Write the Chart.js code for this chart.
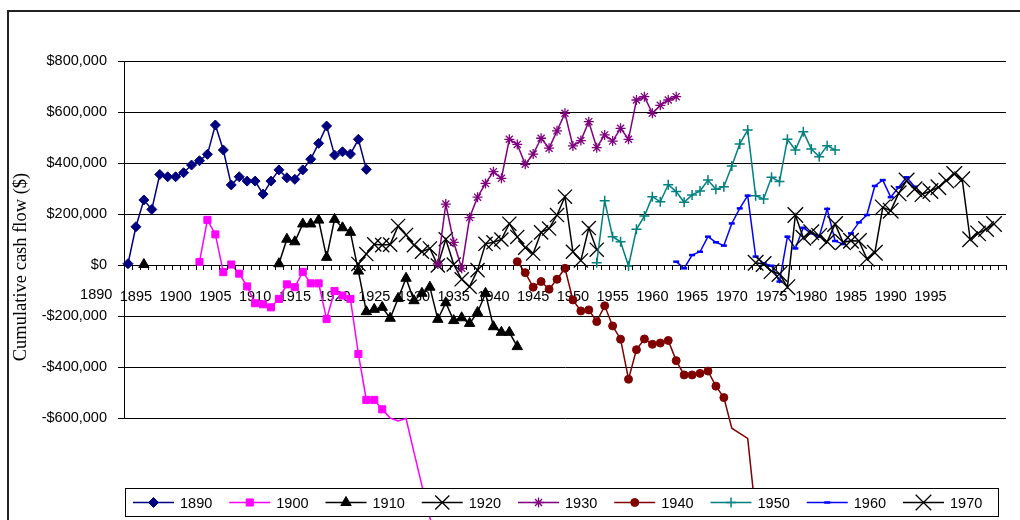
<!DOCTYPE html>
<html>
<head>
<meta charset="utf-8">
<script src="https://cdn.jsdelivr.net/npm/chart.js@4.4.0/dist/chart.umd.min.js"></script>
<style>
  html, body { margin: 0; background: #fff; }
  canvas { display: block; }
</style>
</head>
<body>
<canvas id="cashChart" width="1020" height="520"></canvas>
<script>
// ---- categories (one per year on the axis) ----
const firstYear = 1894;
const lastYear = 2004;
const years = [];
for (let y = firstYear; y <= lastYear; y++) years.push(y);

// ---- series : first plotted year + cumulative cash flow values ($) ----
const start1890 = 1894;
const s1890 = [5000, 150000, 255000, 218000, 355000, 346000, 346000, 362000, 392000, 409000,
  434000, 549000, 451000, 314000, 346000, 329000, 329000, 278000, 329000, 373000,
  342000, 336000, 373000, 415000, 477000, 545000, 431000, 444000, 435000, 493000, 375000];

const start1900 = 1903;
const s1900 = [12000, 177000, 120000, -28000, 2000, -34000, -84000, -150000, -154000, -166000,
  -133000, -76000, -87000, -27000, -72000, -72000, -212000, -102000, -120000, -133000,
  -349000, -529000, -529000, -566000, -600000, -612000, -602000, -735000, -865000, -990000, -1110000];
const lastMarker1900 = 1926;

const start1910 = 1913;
const s1910 = [5000, 101000, 91000, 161000, 161000, 176000, 30000, 179000, 146000, 128000,
  -24000, -183000, -174000, -166000, -209000, -131000, -52000, -140000, -111000, -87000,
  -213000, -148000, -218000, -207000, -229000, -186000, -111000, -242000, -264000, -264000, -320000];
const lone1910 = { 1896: 2000 };

const start1920 = 1923;
const s1920 = [4000, 43000, 81000, 78000, 80000, 153000, 118000, 78000, 52000, 65000,
  -2000, 101000, 2000, -56000, -85000, -20000, 83000, 89000, 100000, 162000,
  110000, 68000, 45000, 128000, 143000, 196000, 268000, 52000, 18000, 145000, 60000];

const start1930 = 1933;
const s1930 = [4000, 239000, 89000, -13000, 186000, 266000, 320000, 366000, 340000, 493000,
  473000, 395000, 435000, 497000, 458000, 526000, 595000, 467000, 488000, 562000,
  460000, 510000, 486000, 536000, 493000, 647000, 660000, 595000, 626000, 647000, 660000];

const start1940 = 1943;
const s1940 = [13000, -30000, -87000, -65000, -95000, -56000, -13000, -137000, -180000, -176000,
  -222000, -160000, -239000, -291000, -448000, -332000, -290000, -311000, -306000, -296000,
  -375000, -431000, -431000, -425000, -416000, -475000, -520000, -640000, -660000, -680000, -975000];
const lastMarker1940 = 1969;

const start1950 = 1953;
const s1950 = [9000, 252000, 111000, 91000, -4000, 140000, 192000, 268000, 248000, 315000,
  288000, 246000, 275000, 290000, 333000, 297000, 307000, 388000, 475000, 529000,
  272000, 259000, 344000, 327000, 493000, 451000, 523000, 455000, 425000, 468000, 451000];

const start1960 = 1963;
const s1960 = [13000, -13000, 39000, 52000, 111000, 89000, 76000, 163000, 222000, 272000,
  33000, 7000, -3000, -65000, 111000, 65000, 146000, 124000, 111000, 220000,
  94000, 82000, 124000, 167000, 196000, 310000, 333000, 266000, 305000, 344000, 307000];

const start1970 = 1973;
const s1970 = [9000, 4000, -24000, -35000, -87000, 196000, 107000, 128000, 114000, 91000,
  161000, 89000, 95000, 94000, 24000, 48000, 226000, 213000, 281000, 331000,
  297000, 278000, 290000, 305000, 331000, 357000, 336000, 101000, 124000, 141000, 161000];

// ---- y axis ----
const yMin = -600000;
const yMax = 800000;
const yStep = 200000;
const yTitle = 'Cumulative cash flow ($)';
const firstAxisLabel = '1890';

// ======================= construction =======================

function place(start, values, extra) {
  const out = years.map(() => null);
  values.forEach((v, i) => { out[start - firstYear + i] = v; });
  if (extra) Object.keys(extra).forEach(y => { out[+y - firstYear] = extra[y]; });
  return out;
}

const series = [
  { name: '1890', data: place(start1890, s1890), color: '#000080', style: 'rectRot', r: 5 },
  { name: '1900', data: place(start1900, s1900), color: '#FF00FF', style: 'rect', r: 5, stop: lastMarker1900 },
  { name: '1910', data: place(start1910, s1910, lone1910), color: '#000000', style: 'triangle', r: 6 },
  { name: '1920', data: place(start1920, s1920), color: '#000000', style: 'crossRot', r: 10, bw: 1.3 },
  { name: '1930', data: place(start1930, s1930), color: '#800080', style: 'star', r: 5, bw: 1.3 },
  { name: '1940', data: place(start1940, s1940), color: '#800000', style: 'circle', r: 4, stop: lastMarker1940 },
  { name: '1950', data: place(start1950, s1950), color: '#008080', style: 'cross', r: 5, bw: 1.5 },
  { name: '1960', data: place(start1960, s1960), color: '#0000FF', style: 'line', r: 3, bw: 2.5 },
  { name: '1970', data: place(start1970, s1970), color: '#000000', style: 'crossRot', r: 11, bw: 1.3 }
];

const datasets = series.map((s, i) => ({
  label: s.name,
  data: s.data,
  borderColor: s.color,
  backgroundColor: s.color,
  borderWidth: 1.5,
  pointStyle: s.style,
  pointRadius: ctx => (s.stop && years[ctx.dataIndex] > s.stop) ? 0 : s.r,
  pointBorderWidth: s.bw || 1,
  pointBorderColor: s.color,
  pointBackgroundColor: s.color,
  tension: 0,
  spanGaps: false,
  clip: false,
  order: 20 - i
}));

const money = v => (v < 0 ? '-$' : '$') + Math.abs(v).toLocaleString('en-US');

const TICK = 5;

// frame, category tick marks, odd "1890" label, axis title and boxed legend
const extras = {
  id: 'extras',
  afterDraw(chart) {
    const ctx = chart.ctx;
    const xs = chart.scales.x;
    const ys = chart.scales.y;
    const y0 = Math.round(ys.getPixelForValue(0));
    ctx.save();

    ctx.strokeStyle = '#222';
    ctx.lineWidth = 2;
    ctx.strokeRect(8, 11, 1200, 700);

    const catW = (xs.right - xs.left) / years.length;
    ctx.strokeStyle = '#000';
    ctx.lineWidth = 1;
    ctx.beginPath();
    for (let i = 0; i <= years.length; i++) {
      const tx = Math.round(xs.left + i * catW) + 0.5;
      ctx.moveTo(tx, y0);
      ctx.lineTo(tx, y0 + TICK);
    }
    ctx.stroke();

    ctx.fillStyle = '#000';
    ctx.font = '14.5px "Liberation Sans", Arial, sans-serif';
    ctx.textAlign = 'center';
    ctx.textBaseline = 'top';
    ctx.fillText(firstAxisLabel, xs.getPixelForValue(1895 - firstYear) - 5 * catW, ys.getPixelForValue(0) + TICK + 18);

    ctx.save();
    ctx.translate(21, 267);
    ctx.rotate(-Math.PI / 2);
    ctx.font = '18.5px "Liberation Serif", "Times New Roman", serif';
    ctx.textAlign = 'center';
    ctx.textBaseline = 'middle';
    ctx.fillText(yTitle, 0, 0);
    ctx.restore();

    // legend
    ctx.fillStyle = '#fff';
    ctx.fillRect(125, 488, 873, 28);
    ctx.strokeStyle = '#000';
    ctx.lineWidth = 1;
    ctx.strokeRect(125.5, 488.5, 873, 28);
    ctx.font = '14.5px "Liberation Sans", Arial, sans-serif';
    ctx.textAlign = 'left';
    ctx.textBaseline = 'middle';
    series.forEach((s, i) => {
      const lx = 133 + i * 96.25;
      const ly = 502.5;
      ctx.strokeStyle = s.color;
      ctx.fillStyle = s.color;
      ctx.lineWidth = 1.5;
      ctx.beginPath();
      ctx.moveTo(lx, ly);
      ctx.lineTo(lx + 41, ly);
      ctx.stroke();
      ctx.lineWidth = s.bw || 1;
      Chart.helpers.drawPoint(ctx, { pointStyle: s.style, radius: s.r, rotation: 0, borderWidth: s.bw || 1 }, lx + 20.5, ly);
      ctx.fillStyle = '#000';
      ctx.fillText(s.name, lx + 47, ly + 1);
    });
    ctx.restore();
  }
};

Chart.defaults.font.family = '"Liberation Sans", Arial, sans-serif';
Chart.defaults.font.size = 14.5;
Chart.defaults.color = '#000';

new Chart(document.getElementById('cashChart'), {
  type: 'line',
  data: { labels: years.map(String), datasets: datasets },
  options: {
    responsive: false,
    devicePixelRatio: 1,
    animation: false,
    events: [],
    layout: { padding: { left: 0, top: 61, right: 9, bottom: 102 } },
    plugins: { legend: { display: false }, tooltip: { enabled: false } },
    scales: {
      x: {
        type: 'category',
        position: { y: 0 },
        offset: true,
        grid: { display: false, offset: true, drawOnChartArea: false, drawTicks: true, tickLength: TICK },
        border: { display: true, color: '#000', width: 1 },
        ticks: {
          autoSkip: false,
          maxRotation: 0,
          minRotation: 0,
          padding: 18,
          callback: (v, i) => (years[i] % 5 === 0 && years[i] <= 1995) ? String(years[i]) : ''
        }
      },
      y: {
        min: yMin,
        max: yMax,
        afterFit: scale => { scale.width = 124; },
        grid: { color: '#000', lineWidth: 1, tickLength: 6 },
        border: { color: '#000', width: 1 },
        ticks: { stepSize: yStep, padding: 11, callback: v => money(v) }
      }
    }
  },
  plugins: [extras]
});
</script>
</body>
</html>
